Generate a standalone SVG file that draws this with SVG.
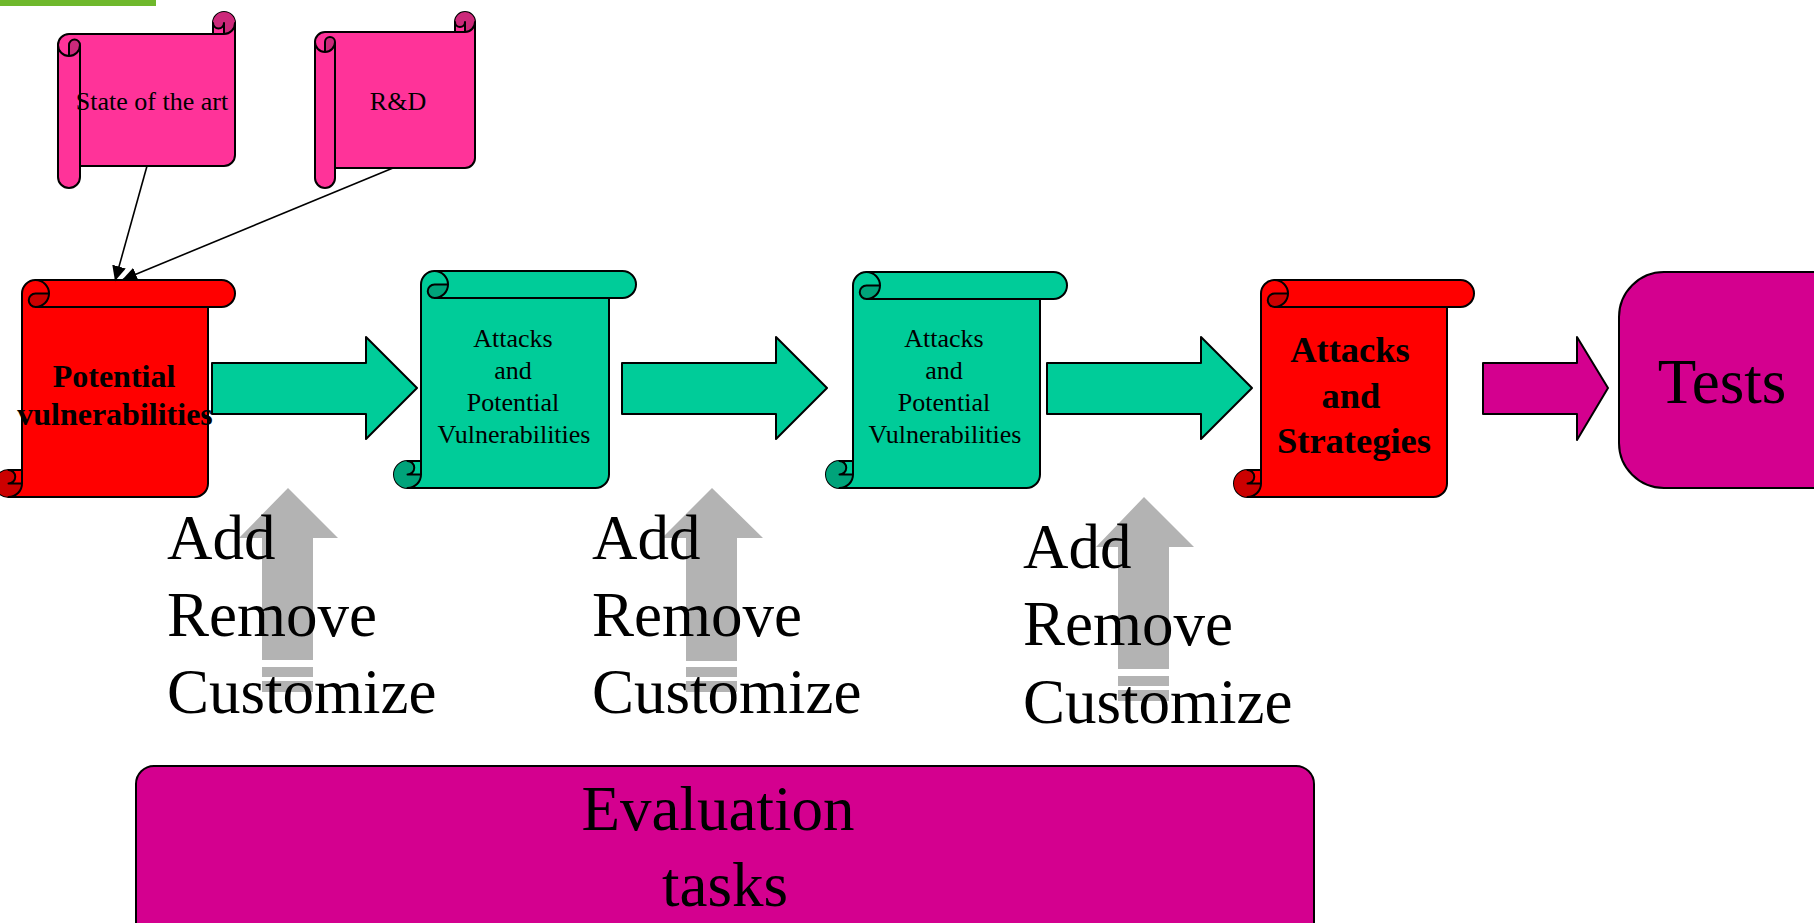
<svg xmlns="http://www.w3.org/2000/svg" width="1814" height="923" viewBox="0 0 1814 923">
  <style>
    .ol { stroke: #000; stroke-width: 2; stroke-linejoin: round; }
    .ln { fill: none; stroke: #000; stroke-width: 2; stroke-linejoin: round; stroke-linecap: round; }
    .pink { fill: #ff3399; }
    .pinkd { fill: #cc297a; }
    .red { fill: #ff0000; }
    .redd { fill: #cc0000; }
    .grn { fill: #00cc99; }
    .grnd { fill: #00a37a; }
    .mag { fill: #d4008f; }
    .gray { fill: #b3b3b3; }
    text { font-family: "Liberation Serif", "Times New Roman", serif; fill: #000; }
    .t26 { font-size: 26px; text-anchor: middle; }
    .b32 { font-size: 32px; font-weight: bold; text-anchor: middle; }
    .b36 { font-size: 36.5px; font-weight: bold; text-anchor: middle; }
    .big { font-size: 63px; }
    .conn { fill: none; stroke: #000; stroke-width: 1.6; }
  </style>
  <defs>
    <marker id="head" markerUnits="userSpaceOnUse" markerWidth="16" markerHeight="14" refX="15" refY="7" orient="auto">
      <path d="M0,0 L15,7 L0,14 Z" fill="#000"/>
    </marker>
  </defs>

  <!-- corner accent bar -->
  <rect x="0" y="0" width="156" height="6" fill="#6fb82c"/>

  <!-- horizontal scroll: State of the art -->
  <g id="scroll-state-of-the-art">
    <g transform="translate(58,12)">
      <path class="pink ol" d="M0,33 A11,11 0 0 1 11,22 L155,22 L155,11 A11,11 0 0 1 177,11 L177,143 A11,11 0 0 1 166,154 L22,154 L22,165 A11,11 0 0 1 0,165 Z"/>
      <path class="pinkd" d="M166,22 A11,11 0 1 0 155,11 A5.5,5.5 0 0 0 166,11 Z M11,44 A11,11 0 0 0 22,33 A5.5,5.5 0 0 0 11,33 Z"/>
      <path class="ln" d="M155,22 L166,22 A11,11 0 0 0 177,11 M166,22 L166,11 A5.5,5.5 0 0 1 155,11 M11,44 L11,33 A5.5,5.5 0 0 1 22,33 A11,11 0 0 1 0,33 M22,33 L22,154"/>
    </g>
    <text class="t26" x="152" y="110">State of the art</text>
  </g>

  <!-- horizontal scroll: R&D -->
  <g id="scroll-rnd">
    <g transform="translate(315,12)">
      <path class="pink ol" d="M0,30 A10,10 0 0 1 10,20 L140,20 L140,10 A10,10 0 0 1 160,10 L160,146 A10,10 0 0 1 150,156 L20,156 L20,166 A10,10 0 0 1 0,166 Z"/>
      <path class="pinkd" d="M150,20 A10,10 0 1 0 140,10 A5,5 0 0 0 150,10 Z M10,40 A10,10 0 0 0 20,30 A5,5 0 0 0 10,30 Z"/>
      <path class="ln" d="M140,20 L150,20 A10,10 0 0 0 160,10 M150,20 L150,10 A5,5 0 0 1 140,10 M10,40 L10,30 A5,5 0 0 1 20,30 A10,10 0 0 1 0,30 M20,30 L20,156"/>
    </g>
    <text class="t26" x="398" y="110">R&amp;D</text>
  </g>

  <!-- vertical scroll: Potential vulnerabilities -->
  <g id="scroll-potential-vulnerabilities">
    <g transform="matrix(0 1 1 0 -5 280)">
      <path class="red ol" d="M0,40.5 A13.5,13.5 0 0 1 13.5,27 L190,27 L190,13.5 A13.5,13.5 0 0 1 217,13.5 L217,199.5 A13.5,13.5 0 0 1 203.5,213 L27,213 L27,226.5 A13.5,13.5 0 0 1 0,226.5 Z"/>
      <path class="redd" d="M203.5,27 A13.5,13.5 0 1 0 190,13.5 A6.75,6.75 0 0 0 203.5,13.5 Z M13.5,54 A13.5,13.5 0 0 0 27,40.5 A6.75,6.75 0 0 0 13.5,40.5 Z"/>
      <path class="ln" d="M190,27 L203.5,27 A13.5,13.5 0 0 0 217,13.5 M203.5,27 L203.5,13.5 A6.75,6.75 0 0 1 190,13.5 M13.5,54 L13.5,40.5 A6.75,6.75 0 0 1 27,40.5 A13.5,13.5 0 0 1 0,40.5 M27,40.5 L27,213"/>
    </g>
    <text class="b32" x="114" y="387">Potential</text>
    <text class="b32" x="115" y="425">vulnerabilities</text>
  </g>

  <!-- vertical scroll: Attacks and Potential Vulnerabilities (1) -->
  <g id="scroll-attacks-1">
    <g transform="matrix(0 1 1 0 394 271)">
      <path class="grn ol" d="M0,40.5 A13.5,13.5 0 0 1 13.5,27 L190,27 L190,13.5 A13.5,13.5 0 0 1 217,13.5 L217,201.5 A13.5,13.5 0 0 1 203.5,215 L27,215 L27,228.5 A13.5,13.5 0 0 1 0,228.5 Z"/>
      <path class="grnd" d="M203.5,27 A13.5,13.5 0 1 0 190,13.5 A6.75,6.75 0 0 0 203.5,13.5 Z M13.5,54 A13.5,13.5 0 0 0 27,40.5 A6.75,6.75 0 0 0 13.5,40.5 Z"/>
      <path class="ln" d="M190,27 L203.5,27 A13.5,13.5 0 0 0 217,13.5 M203.5,27 L203.5,13.5 A6.75,6.75 0 0 1 190,13.5 M13.5,54 L13.5,40.5 A6.75,6.75 0 0 1 27,40.5 A13.5,13.5 0 0 1 0,40.5 M27,40.5 L27,215"/>
    </g>
    <text class="t26" x="513" y="347">Attacks</text>
    <text class="t26" x="513" y="379">and</text>
    <text class="t26" x="513" y="411">Potential</text>
    <text class="t26" x="514" y="443">Vulnerabilities</text>
  </g>

  <!-- vertical scroll: Attacks and Potential Vulnerabilities (2) -->
  <g id="scroll-attacks-2">
    <g transform="matrix(0 1 1 0 826 272)">
      <path class="grn ol" d="M0,40.5 A13.5,13.5 0 0 1 13.5,27 L189,27 L189,13.5 A13.5,13.5 0 0 1 216,13.5 L216,200.5 A13.5,13.5 0 0 1 202.5,214 L27,214 L27,227.5 A13.5,13.5 0 0 1 0,227.5 Z"/>
      <path class="grnd" d="M202.5,27 A13.5,13.5 0 1 0 189,13.5 A6.75,6.75 0 0 0 202.5,13.5 Z M13.5,54 A13.5,13.5 0 0 0 27,40.5 A6.75,6.75 0 0 0 13.5,40.5 Z"/>
      <path class="ln" d="M189,27 L202.5,27 A13.5,13.5 0 0 0 216,13.5 M202.5,27 L202.5,13.5 A6.75,6.75 0 0 1 189,13.5 M13.5,54 L13.5,40.5 A6.75,6.75 0 0 1 27,40.5 A13.5,13.5 0 0 1 0,40.5 M27,40.5 L27,214"/>
    </g>
    <text class="t26" x="944" y="347">Attacks</text>
    <text class="t26" x="944" y="379">and</text>
    <text class="t26" x="944" y="411">Potential</text>
    <text class="t26" x="945" y="443">Vulnerabilities</text>
  </g>

  <!-- vertical scroll: Attacks and Strategies -->
  <g id="scroll-attacks-strategies">
    <g transform="matrix(0 1 1 0 1234 280)">
      <path class="red ol" d="M0,40.5 A13.5,13.5 0 0 1 13.5,27 L190,27 L190,13.5 A13.5,13.5 0 0 1 217,13.5 L217,199.5 A13.5,13.5 0 0 1 203.5,213 L27,213 L27,226.5 A13.5,13.5 0 0 1 0,226.5 Z"/>
      <path class="redd" d="M203.5,27 A13.5,13.5 0 1 0 190,13.5 A6.75,6.75 0 0 0 203.5,13.5 Z M13.5,54 A13.5,13.5 0 0 0 27,40.5 A6.75,6.75 0 0 0 13.5,40.5 Z"/>
      <path class="ln" d="M190,27 L203.5,27 A13.5,13.5 0 0 0 217,13.5 M203.5,27 L203.5,13.5 A6.75,6.75 0 0 1 190,13.5 M13.5,54 L13.5,40.5 A6.75,6.75 0 0 1 27,40.5 A13.5,13.5 0 0 1 0,40.5 M27,40.5 L27,213"/>
    </g>
    <text class="b36" x="1350" y="362">Attacks</text>
    <text class="b36" x="1351" y="408">and</text>
    <text class="b36" x="1354" y="453">Strategies</text>
  </g>

  <!-- Tests -->
  <g id="tests">
    <rect class="mag ol" x="1619" y="272" width="240" height="216" rx="45" ry="45"/>
    <text class="big" x="1722" y="403" text-anchor="middle">Tests</text>
  </g>

  <!-- block arrows between stages -->
  <g id="flow-arrows">
    <polygon class="grn ol" points="212,363 366,363 366,337 417,388 366,439 366,414 212,414"/>
    <polygon class="grn ol" points="622,363 776,363 776,337 827,388 776,439 776,414 622,414"/>
    <polygon class="grn ol" points="1047,363 1201,363 1201,337 1252,388 1201,439 1201,414 1047,414"/>
    <polygon class="mag ol" points="1483,363 1577,363 1577,337 1608,388 1577,440 1577,414 1483,414"/>
  </g>

  <!-- striped up arrows -->
  <g id="up-arrow-1" class="gray">
    <polygon points="288,488 338,538 313,538 313,660 262,660 262,538 239,538"/>
    <rect x="262" y="667" width="51" height="10"/>
    <rect x="262" y="681" width="51" height="11"/>
  </g>
  <g id="up-arrow-2" class="gray">
    <polygon points="712,488 763,538 737,538 737,661 686,661 686,538 662,538"/>
    <rect x="686" y="667" width="51" height="10"/>
    <rect x="686" y="681" width="51" height="11"/>
  </g>
  <g id="up-arrow-3" class="gray">
    <polygon points="1144,497 1194,547 1169,547 1169,669 1118,669 1118,547 1096,547"/>
    <rect x="1118" y="676" width="51" height="10"/>
    <rect x="1118" y="690" width="51" height="11"/>
  </g>

  <!-- edit labels -->
  <g id="edit-1">
    <text class="big" x="167" y="559">Add</text>
    <text class="big" x="167" y="636">Remove</text>
    <text class="big" x="167" y="713">Customize</text>
  </g>
  <g id="edit-2">
    <text class="big" x="592" y="559">Add</text>
    <text class="big" x="592" y="636">Remove</text>
    <text class="big" x="592" y="713">Customize</text>
  </g>
  <g id="edit-3">
    <text class="big" x="1023" y="568">Add</text>
    <text class="big" x="1023" y="645">Remove</text>
    <text class="big" x="1023" y="723">Customize</text>
  </g>

  <!-- Evaluation tasks -->
  <g id="evaluation-tasks">
    <rect class="mag ol" x="136" y="766" width="1178" height="180" rx="18" ry="18"/>
    <text class="big" x="718" y="830" text-anchor="middle">Evaluation</text>
    <text class="big" x="725" y="906" text-anchor="middle">tasks</text>
  </g>

  <!-- connectors -->
  <g id="connectors">
    <line class="conn" x1="147" y1="166" x2="115" y2="281" marker-end="url(#head)"/>
    <line class="conn" x1="393" y1="168" x2="122" y2="280" marker-end="url(#head)"/>
  </g>
</svg>
